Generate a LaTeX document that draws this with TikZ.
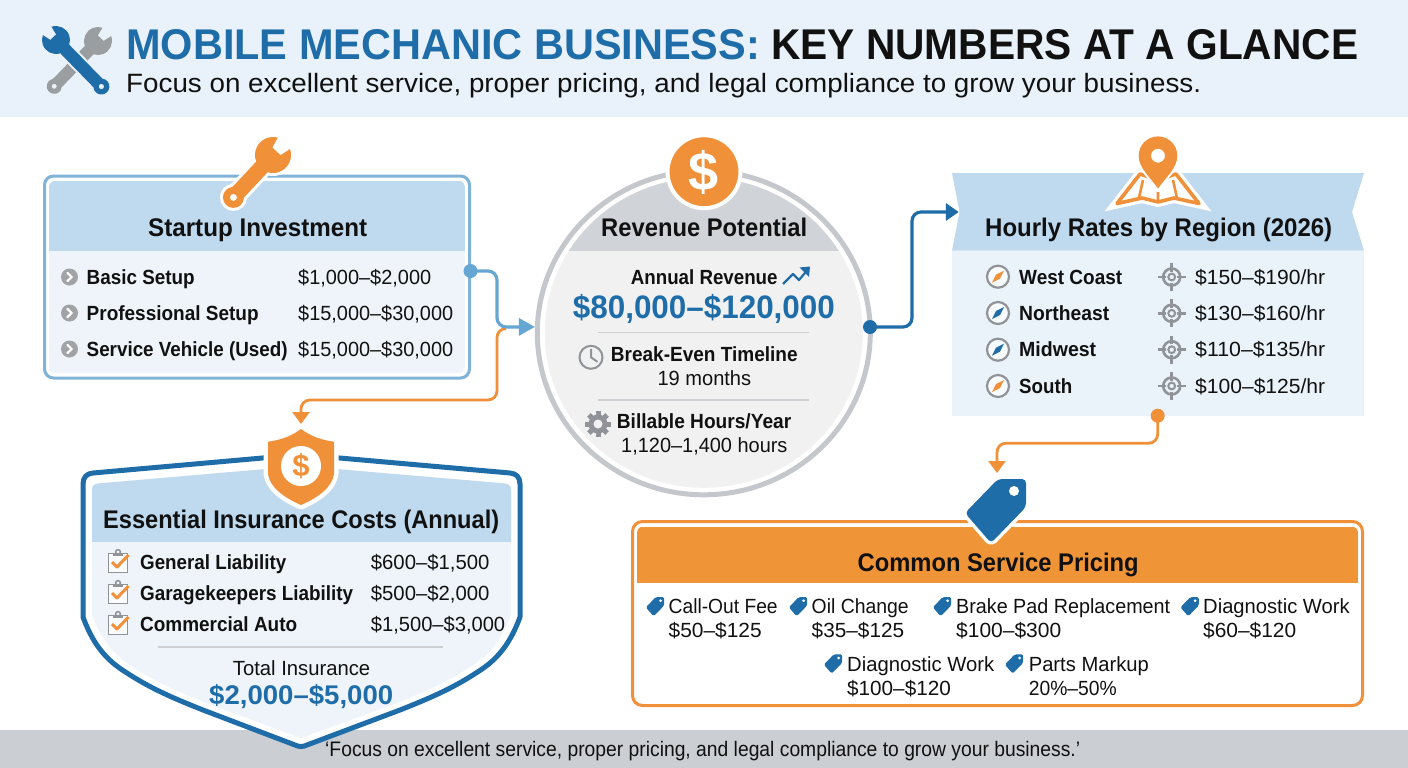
\documentclass[tikz,border=0pt]{standalone}
\usepackage{fontspec}
\usepackage{graphicx}
\setmainfont{Liberation Sans}
\usetikzlibrary{arrows.meta,shapes.geometric}
\definecolor{ink}{HTML}{111111}
\definecolor{brandblue}{HTML}{1F6DA8}
\definecolor{orng}{HTML}{F0913A}
\definecolor{skyline}{HTML}{7FB3D8}
\definecolor{skyconn}{HTML}{66A6D3}
\definecolor{band}{HTML}{BFD9EF}
\definecolor{pale}{HTML}{EEF4FA}
\definecolor{paletop}{HTML}{EAF2FA}
\definecolor{palebot}{HTML}{F4F8FC}
\definecolor{headbg}{HTML}{E9F2FA}
\definecolor{greyi}{HTML}{909397}
\definecolor{ringgrey}{HTML}{C4C7CB}
\definecolor{footbg}{HTML}{CBCED2}
\definecolor{revband}{HTML}{D0D3D7}
\definecolor{revbody}{HTML}{F1F1F2}
\tikzset{
  lb/.style={font=\fontsize{20.5}{24}\selectfont\bfseries,text=ink},
  lr/.style={font=\fontsize{20.5}{24}\selectfont,text=ink},
  ttl/.style={font=\fontsize{25.5}{30}\selectfont\bfseries,text=ink},
  bluebig/.style={font=\fontsize{#1}{36}\selectfont\bfseries,text=brandblue},
  conn/.style={line width=3.2pt,rounded corners=9pt},
  bare/.style={inner sep=0pt,outer sep=0pt,minimum width=#1},
  dotnode/.style={circle,inner sep=0pt,minimum size=#1},
  divider/.style={draw=ringgrey!85,line width=1.1pt},
}
\newcommand\lab[6]{\node[anchor=base west,inner sep=0pt,#5] (#1) at (#2,#3) {\resizebox{#4pt}{\height}{#6}};}
% wrench: head centre x,y; rotation; L R n h t; path options
\newcommand\wrenchicon[9]{%
 \begin{scope}[shift={(#1,#2)},rotate=#3]
 \pgfmathsetmacro\wR{#5}\pgfmathsetmacro\wn{#6}\pgfmathsetmacro\wh{#7}\pgfmathsetmacro\wt{#8}
 \pgfmathsetmacro\wth{asin(1.2*\wn/\wR)}\pgfmathsetmacro\wph{asin(\wh/\wR)}\pgfmathsetmacro\wps{asin(\wh/\wt)}
 \pgfmathsetmacro\wa{\wR*cos(\wth)}\pgfmathsetmacro\wb{\wR*cos(\wph)}\pgfmathsetmacro\wc{#4-\wt*cos(\wps)}
 \pgfmathsetmacro\wd{0.28*\wR}\pgfmathsetmacro\wm{1.2*\wn}\pgfmathsetmacro\wi{0.8*\wn}
 \path[#9,even odd rule,line join=round]
   (-\wa,\wm) -- (-\wd,\wi) -- (-\wd,-\wi) -- (-\wa,-\wm)
   arc[start angle=-180+\wth,end angle=-\wph,radius=\wR]
   -- (\wc,-\wh) arc[start angle=-180+\wps,end angle=180-\wps,radius=\wt]
   -- (\wb,\wh) arc[start angle=\wph,end angle=180-\wth,radius=\wR] -- cycle
   (#4,0) circle[radius=0.34*\wt];
 \end{scope}}
\newcommand\bulletdot[2]{%
 \fill[greyi!85] (#1,#2) circle[radius=8.5];
 \draw[white,line width=2.2pt,line cap=round,line join=round] (#1-2,#2-4) -- (#1+2.2,#2) -- (#1-2,#2+4);}
\newcommand\compass[3]{%
 \draw[greyi,line width=2.2pt,fill=white!60!pale] (#1,#2) circle[radius=11];
 \fill[#3] (#1+6,#2-6) -- (#1+2,#2+2) -- (#1-6,#2+6) -- (#1-2,#2-2) -- cycle;}
\newcommand\targeticon[2]{%
 \draw[greyi,line width=2.6pt] (#1,#2) circle[radius=8.5];
 \draw[greyi,line width=2pt] (#1,#2) circle[radius=3.4];
 \draw[greyi,line width=2.6pt] (#1-14,#2) -- (#1-5.5,#2) (#1+5.5,#2) -- (#1+14,#2) (#1,#2-14) -- (#1,#2-5.5) (#1,#2+5.5) -- (#1,#2+14);}
\newcommand\clipicon[2]{%
 \draw[greyi,line width=1.6pt,fill=white!70!pale] (#1-9.5,#2-8) rectangle (#1+9.5,#2+11);
 \fill[greyi] (#1-5,#2-9) rectangle (#1+5,#2-5.5);
 \draw[greyi,line width=1.5pt] (#1,#2-9.5) circle[radius=2.4];
 \draw[orng,line width=3pt,line join=round] (#1-6,#2+0.5) -- (#1-1,#2+5.5) -- (#1+10.5,#2-6.5);}
\newcommand\smalltag[2]{\begin{scope}[shift={(#1,#2)},scale=0.3]
 \path[fill=brandblue,rounded corners=1.5pt] (30.5,-32) -- (2.5,-32) -- (-30.5,2) -- (-4.5,32) -- (30.5,-4) -- cycle;
 \fill[white] (18.5,-20) circle[radius=5];
 \end{scope}}
\newcommand\shieldouter{(301,454.6) -- (510,473) .. controls (516,473.5) and (520,477) .. (520,484)
   -- (520,617) .. controls (508,650) and (492,663) .. (476,673) .. controls (450,690) and (425,700) .. (400,710)
   -- (307,745) .. controls (303,747) and (299,747) .. (295,745)
   -- (203,710) .. controls (178,700) and (153,690) .. (127,673) .. controls (111,663) and (95,650) .. (83,617)
   -- (83,484) .. controls (83,477) and (87,473.5) .. (93,473) -- cycle}
\newcommand\shieldinner{(301,466) -- (505,483.5) .. controls (509,484) and (511,486) .. (511,490)
   -- (511,615) .. controls (500,644) and (486,657) .. (470,667) .. controls (446,683) and (421,693) .. (397,703)
   -- (301,738)
   -- (206,703) .. controls (182,693) and (157,683) .. (133,667) .. controls (117,657) and (103,644) .. (92,615)
   -- (92,490) .. controls (92,486) and (94,484) .. (98,483.5) -- cycle}
\begin{document}
\begin{tikzpicture}[x=1pt,y=1pt,yscale=-1]
\useasboundingbox (0,0) rectangle (1408,768);
\fill[white] (0,0) rectangle (1408,768);
% ---------- header
\fill[headbg] (0,0) rectangle (1408,117);
\wrenchicon{98}{41}{134}{63}{14}{5}{6}{7.5}{fill=greyi!90}
\wrenchicon{56}{40}{45.7}{65}{14}{5}{6.2}{8}{fill=brandblue,preaction={draw=headbg,line width=4pt}}
\lab{titlea}{126}{59.5}{634}{font=\fontsize{43}{50}\selectfont\bfseries,text=brandblue}{MOBILE MECHANIC BUSINESS:}
\lab{titleb}{771}{59.5}{587}{font=\fontsize{43}{50}\selectfont\bfseries,text=ink}{KEY NUMBERS AT A GLANCE}
\lab{subtitle}{126}{92.7}{1075}{font=\fontsize{26.5}{31}\selectfont,text=ink}{Focus on excellent service, proper pricing, and legal compliance to grow your business.}
% ---------- footer
\fill[footbg] (0,730) rectangle (1408,768);
\lab{footer}{325}{756}{755}{font=\fontsize{21}{25}\selectfont,text=ink}{‘Focus on excellent service, proper pricing, and legal compliance to grow your business.’}
% ---------- startup box
\node[draw=skyline,line width=3pt,rounded corners=9pt,fill=white,minimum width=425pt,minimum height=202pt,inner sep=0pt] (startup) at (257,277) {};
\begin{scope}
 \clip[rounded corners=6pt] (49,181) rectangle (465,373);
 \fill[pale] (49,181) rectangle (465,373);
 \fill[band] (49,181) rectangle (465,251);
\end{scope}
\wrenchicon{273}{155}{133}{58}{18}{7}{7.8}{10.5}{fill=orng,preaction={draw=white,line width=6pt}}
\lab{startt}{148}{236.5}{219}{ttl}{Startup Investment}
\bulletdot{69.5}{277}\bulletdot{69.5}{313}\bulletdot{69.5}{349}
\lab{sa}{86.5}{284}{108}{lb}{Basic Setup}
\lab{sb}{86.5}{320}{172}{lb}{Professional Setup}
\lab{sc}{86.5}{356}{201}{lb}{Service Vehicle (Used)}
\lab{spa}{298}{284}{133}{lr}{\$1,000–\$2,000}
\lab{spb}{298}{320}{155}{lr}{\$15,000–\$30,000}
\lab{spc}{298}{356}{155}{lr}{\$15,000–\$30,000}
% ---------- revenue circle
\node[ellipse,draw=ringgrey,line width=5pt,fill=white,minimum width=333pt,minimum height=324pt,inner sep=0pt] (rev) at (703.8,332.8) {};
\begin{scope}
 \clip (703.8,332.8) ellipse[x radius=159,y radius=155];
 \fill[revbody] (530,160) rectangle (880,510);
 \fill[revband] (530,160) rectangle (880,250.7);
\end{scope}
\fill[orng,draw=white,line width=4pt] (704,171.7) circle[radius=36.5];
\node[inner sep=0pt,font=\fontsize{54}{60}\selectfont\bfseries,text=white] (revsign) at (704,172) {\$};
\lab{revt}{601}{236}{206}{ttl}{Revenue Potential}
\lab{ra}{630.7}{284}{146.7}{lb}{Annual Revenue}
\draw[brandblue,line width=2.2pt,line join=round] (783,284) -- (793,274) -- (799,280) -- (807,270.5);
\fill[brandblue] (810,266.5) -- (799.5,267.5) -- (809,277) -- cycle;
\lab{rb}{572.7}{318.3}{262}{bluebig=32.5}{\$80,000–\$120,000}
\draw[divider] (598,332.7) -- (809,332.7);
\draw[greyi,line width=2pt] (591,357.3) circle[radius=11.5];
\draw[greyi,line width=2pt,line cap=round,line join=round] (591,349.5) -- (591,357.3) -- (597,361.5);
\lab{rc}{610.7}{361.7}{186.7}{lb}{Break-Even Timeline}
\lab{rd}{657.3}{385.3}{93.7}{lr}{19 months}
\draw[divider] (598,400) -- (809,400);
\foreach \a in {0,45,...,315}{\draw[greyi,line width=5pt] (598,424) -- ++(\a:12.8);}
\fill[greyi] (598,424) circle[radius=9.5];
\fill[revbody] (598,424) circle[radius=4.5];
\lab{re}{616.7}{428.3}{174.3}{lb}{Billable Hours/Year}
\lab{rf}{621}{452}{166.3}{lr}{1,120–1,400 hours}
% ---------- hourly rates
\node[inner sep=0pt,minimum width=412pt,minimum height=78pt] (hourlyhead) at (1158,212) {};
\fill[paletop] (952,250.5) rectangle (1364,415.7);
\fill[band] (952,173) -- (1364,173) -- (1352,212) -- (1364,250.7) -- (952,250.7) -- (959.5,212) -- cycle;
\draw[orng,line width=3.6pt,fill=white,line join=round,preaction={draw=white,line width=10pt}]
   (1140,174) -- (1117,203.5) -- (1142,198) -- (1158,202) -- (1174,198) -- (1199,203.5) -- (1176,174) -- (1158,180) -- cycle;
\draw[orng,line width=2.6pt] (1143,180) -- (1139,198) (1173,180) -- (1177,198) (1158,192) -- (1158,202);
\path[fill=orng,even odd rule,preaction={draw=white,line width=4pt}]
   (1158,188.5) .. controls (1150,177) and (1138.7,168) .. (1138.7,155.7)
   arc[start angle=180,end angle=360,radius=19.3]
   .. controls (1177.3,168) and (1166,177) .. (1158,188.5) -- cycle
   (1158,155.7) circle[radius=7];
\lab{hourt}{985}{236.7}{347}{ttl}{Hourly Rates by Region (2026)}
\compass{998}{276.7}{orng}\compass{998}{313}{brandblue}\compass{998}{349.7}{brandblue}\compass{998}{386}{orng}
\lab{ha}{1019}{284}{103}{lb}{West Coast}
\lab{hb}{1019}{320}{90}{lb}{Northeast}
\lab{hc}{1019}{356.5}{77}{lb}{Midwest}
\lab{hd}{1019}{393}{53}{lb}{South}
\targeticon{1171.7}{277}\targeticon{1171.7}{313.3}\targeticon{1171.7}{349.7}\targeticon{1171.7}{386}
\lab{hpa}{1195}{284}{130}{lr}{\$150–\$190/hr}
\lab{hpb}{1195}{320}{130}{lr}{\$130–\$160/hr}
\lab{hpc}{1195}{356.5}{130}{lr}{\$110–\$135/hr}
\lab{hpd}{1195}{393}{130}{lr}{\$100–\$125/hr}
% ---------- insurance shield
\draw[brandblue,line width=5pt,fill=white,line join=round] \shieldouter;
\fill[pale] \shieldinner;
\begin{scope}
 \clip \shieldinner;
 \fill[band] (85,460) rectangle (518,541.7);
\end{scope}
\node[bare=68pt,minimum height=76pt] (shieldicon) at (301,467) {};
\path[fill=orng,preaction={draw=white,line width=9pt,line join=round}]
  (301,429) .. controls (290,437) and (280,440) .. (268,441.7)
  -- (268,474) .. controls (270,488) and (285,498) .. (301,505)
  .. controls (317,498) and (332,488) .. (334,474)
  -- (334,441.7) .. controls (322,440) and (312,437) .. (301,429) -- cycle;
\fill[white] (301,466) circle[radius=20];
\node[inner sep=0pt,font=\fontsize{31}{36}\selectfont\bfseries,text=orng] (shieldsign) at (301,466) {\$};
\lab{inst}{103}{528}{396}{ttl}{Essential Insurance Costs (Annual)}
\clipicon{118}{561.5}\clipicon{118}{592.5}\clipicon{118}{623.5}
\lab{ia}{140}{569.3}{146}{lb}{General Liability}
\lab{ib}{140}{600.7}{213}{lb}{Garagekeepers Liability}
\lab{ic}{140}{631.7}{157}{lb}{Commercial Auto}
\lab{ipa}{370.7}{569.3}{118.6}{lr}{\$600–\$1,500}
\lab{ipb}{370.7}{600.7}{118.6}{lr}{\$500–\$2,000}
\lab{ipc}{370.7}{631.7}{134.3}{lr}{\$1,500–\$3,000}
\draw[divider] (158,647) -- (443,647);
\lab{ta}{232.7}{675}{137.3}{lr}{Total Insurance}
\lab{tb}{209}{704}{184}{bluebig=27}{\$2,000–\$5,000}
% ---------- service pricing
\node[draw=orng,line width=3pt,rounded corners=10pt,fill=white,minimum width=730pt,minimum height=184pt,inner sep=0pt] (service) at (997.5,613.5) {};
\begin{scope}
 \clip[rounded corners=6pt] (637,526.7) rectangle (1358,640);
 \fill[orng!97!yellow] (637,526.7) rectangle (1358,583);
\end{scope}
\node[bare=61pt,minimum height=64pt] (tagnode) at (997,511) {};
\begin{scope}[shift={(995.5,511)}]
 \path[fill=brandblue,rounded corners=4pt,preaction={draw=white,line width=7pt,line join=round}]
  (30.5,-32) -- (2.5,-32) -- (-30.5,2) -- (-4.5,32) -- (30.5,-4) -- cycle;
 \fill[white] (18.5,-20) circle[radius=5];
\end{scope}
\lab{servt}{857.5}{571.7}{281}{ttl}{Common Service Pricing}
\smalltag{655}{606.7}\smalltag{798}{606.7}\smalltag{942}{606.7}\smalltag{1189.6}{606.7}\smalltag{833}{664}\smalltag{1014}{664}
\lab{pa}{668.5}{613.5}{109}{lr}{Call-Out Fee}
\lab{pb}{668.5}{637.7}{93}{lr}{\$50–\$125}
\lab{pc}{811.5}{613.5}{97}{lr}{Oil Change}
\lab{pd}{811.5}{637.7}{92.5}{lr}{\$35–\$125}
\lab{pe}{956}{613.5}{214}{lr}{Brake Pad Replacement}
\lab{pf}{956}{637.7}{105}{lr}{\$100–\$300}
\lab{pg}{1203}{613.5}{146.5}{lr}{Diagnostic Work}
\lab{ph}{1203}{637.7}{93}{lr}{\$60–\$120}
\lab{pi}{847}{671.5}{147}{lr}{Diagnostic Work}
\lab{pj}{847}{695.7}{103.6}{lr}{\$100–\$120}
\lab{pk}{1028.6}{671.5}{120}{lr}{Parts Markup}
\lab{pl}{1028.6}{695.7}{88}{lr}{20\%–50\%}
% ---------- connectors
\node[dotnode=14pt,fill=skyconn] (d1) at (470.5,271) {};
\node[dotnode=14pt,fill=brandblue] (d2) at (870,327) {};
\node[dotnode=14pt,fill=orng] (d3) at (1157.7,415.7) {};
\coordinate (j1) at (505,328.5);
\draw[conn,orng,line width=2.8pt,-{Triangle[length=12pt,width=17pt]},shorten >=5pt]
  (j1) -- ++(-8,0) -- ++(0,71.5) -| (shieldicon.north);
\draw[conn,skyconn,-{Triangle[length=16pt,width=17pt]}]
  (d1.center) -- ++(26.5,0) |- (rev.178.5);
\draw[conn,brandblue,-{Triangle[length=13pt,width=17pt]},shorten >=-7pt]
  (d2.center) -- ++(42,0) |- (hourlyhead.west);
\draw[conn,orng,line width=2.8pt,-{Triangle[length=12pt,width=17pt]},shorten >=6pt]
  (d3.center) -- ++(0,27.5) -| (tagnode.north);
\end{tikzpicture}
\end{document}
